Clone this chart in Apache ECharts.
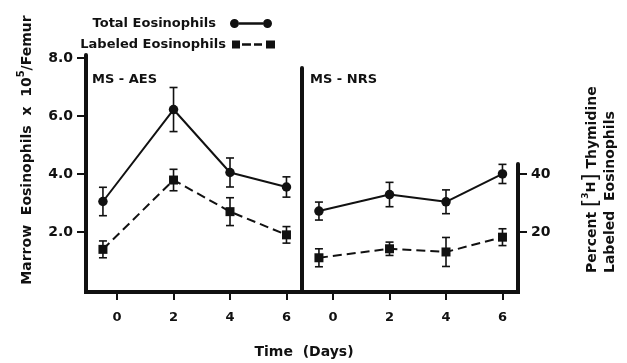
<!DOCTYPE html>
<html>
<head>
<meta charset="utf-8">
<script src="https://cdn.jsdelivr.net/npm/echarts@6/dist/echarts.min.js"></script>
<style>
html,body{margin:0;padding:0;background:#fff;}
#chart{width:627px;height:363px;}
</style>
</head>
<body>
<div id="chart"></div>
<script>
// ---- data ----
const xPos = [-0.5, 2, 4, 6];          // plotted positions of the four time points
const xTicks = [0, 2, 4, 6];           // x tick labels (days)
const yTicksLeft = [2, 4, 6, 8];       // marrow eosinophils x10^5 / femur
const yTicksRight = [20, 40];          // percent labeled
const aesTotal = [3.05, 6.22, 4.05, 3.55];
const aesTotalErr = [0.49, 0.76, 0.50, 0.35];
const aesLabeled = [14.0, 37.9, 27.0, 19.0];
const aesLabeledErr = [2.9, 3.7, 4.8, 2.85];
const nrsTotal = [2.72, 3.29, 3.04, 4.0];
const nrsTotalErr = [0.31, 0.42, 0.41, 0.33];
const nrsLabeled = [11.1, 14.2, 13.1, 18.2];
const nrsLabeledErr = [3.1, 2.3, 5.0, 2.9];

const INK = '#111';
const FONT = 'DejaVu Sans';

const chart = echarts.init(document.getElementById('chart'), null, {renderer: 'canvas'});

function pts(vals) { return xPos.map((x, i) => [x, vals[i]]); }
function errPts(vals, errs) { return xPos.map((x, i) => [x, vals[i], errs[i]]); }

function errSeries(xi, yi, vals, errs) {
  return {
    type: 'custom', xAxisIndex: xi, yAxisIndex: yi, z: 1,
    data: errPts(vals, errs),
    encode: {x: 0, y: 1},
    renderItem: function (params, api) {
      const x = api.value(0), y = api.value(1), e = api.value(2);
      const t = api.coord([x, y + e]);
      const b = api.coord([x, y - e]);
      const hw = 4;
      const st = {stroke: INK, lineWidth: 1.6};
      return {type: 'group', children: [
        {type: 'line', shape: {x1: t[0], y1: t[1], x2: b[0], y2: b[1]}, style: st},
        {type: 'line', shape: {x1: t[0] - hw, y1: t[1], x2: t[0] + hw, y2: t[1]}, style: st},
        {type: 'line', shape: {x1: b[0] - hw, y1: b[1], x2: b[0] + hw, y2: b[1]}, style: st}
      ]};
    }
  };
}

function totalSeries(xi, yi, vals) {
  return {
    name: 'Total Eosinophils', type: 'line', xAxisIndex: xi, yAxisIndex: yi, z: 3,
    data: pts(vals), symbol: 'circle', symbolSize: 9.5, showSymbol: true,
    lineStyle: {color: INK, width: 2}, itemStyle: {color: INK}
  };
}
function labeledSeries(xi, yi, vals) {
  return {
    name: 'Labeled Eosinophils', type: 'line', xAxisIndex: xi, yAxisIndex: yi, z: 3,
    data: pts(vals), symbol: 'rect', symbolSize: 9, showSymbol: true,
    lineStyle: {color: INK, width: 2, type: [9, 5]}, itemStyle: {color: INK}
  };
}

const xAxisBase = {
  type: 'value', min: -1.1, max: 6.55,
  splitLine: {show: false},
  axisLine: {show: true, onZero: false, lineStyle: {color: INK, width: 4, cap: 'square'}},
  axisTick: {show: true, customValues: xTicks, length: 8, lineStyle: {color: INK, width: 2}},
  axisLabel: {show: true, customValues: xTicks, margin: 19, color: INK,
    fontFamily: FONT, fontWeight: 'bold', fontSize: 13}
};

const hiddenY = (min, max, grid) => ({type: 'value', gridIndex: grid, min: min, max: max, show: false,
  axisLine: {onZero: false}, splitLine: {show: false}});

const option = {
  animation: false,
  backgroundColor: '#fff',
  grid: [
    {left: 86, top: 55, width: 216, height: 237, outerBoundsMode: 'none'},
    {left: 302, top: 55, width: 216, height: 237, outerBoundsMode: 'none'},
    {left: 302, top: 68, width: 216, height: 224, outerBoundsMode: 'none'},
    {left: 302, top: 164, width: 216, height: 128, outerBoundsMode: 'none'}
  ],
  xAxis: [
    Object.assign({}, xAxisBase, {gridIndex: 0}),
    Object.assign({}, xAxisBase, {gridIndex: 1}),
    {type: 'value', gridIndex: 2, min: 0, max: 1, show: false},
    {type: 'value', gridIndex: 3, min: 0, max: 1, show: false}
  ],
  yAxis: [
    {type: 'value', gridIndex: 0, position: 'left', min: -0.07, max: 8.1,
      splitLine: {show: false},
      axisLine: {show: true, onZero: false, lineStyle: {color: INK, width: 4}},
      axisTick: {show: true, customValues: yTicksLeft, length: 9, lineStyle: {color: INK, width: 2}},
      axisLabel: {show: true, customValues: yTicksLeft, margin: 13, color: INK,
        fontFamily: FONT, fontWeight: 'bold', fontSize: 14,
        formatter: v => Number(v).toFixed(1)}},
    hiddenY(-0.7, 81, 0),
    hiddenY(-0.07, 8.1, 1),
    hiddenY(-0.7, 81, 1),
    {type: 'value', gridIndex: 2, position: 'left', min: 0, max: 1,
      splitLine: {show: false},
      axisLine: {show: true, onZero: false, lineStyle: {color: INK, width: 4}},
      axisTick: {show: false}, axisLabel: {show: false}},
    {type: 'value', gridIndex: 3, position: 'right', min: -0.7, max: 43.44,
      splitLine: {show: false},
      axisLine: {show: true, onZero: false, lineStyle: {color: INK, width: 4}},
      axisTick: {show: true, customValues: yTicksRight, length: 9, lineStyle: {color: INK, width: 2}},
      axisLabel: {show: true, customValues: yTicksRight, margin: 13, color: INK,
        fontFamily: FONT, fontWeight: 'bold', fontSize: 14}}
  ],
  legend: [
    {data: ['Total Eosinophils'], right: 350, top: 12, align: 'right', selectedMode: false,
      itemWidth: 42, itemHeight: 10,
      icon: 'path://M0,5 A4.5,4.5 0 1,1 9,5 A4.5,4.5 0 1,1 0,5 Z M9,3.8 L33,3.8 L33,6.2 L9,6.2 Z M33,5 A4.5,4.5 0 1,1 42,5 A4.5,4.5 0 1,1 33,5 Z',
      itemStyle: {color: INK, borderWidth: 0},
      textStyle: {color: INK, fontFamily: FONT, fontWeight: 'bold', fontSize: 13, padding: [0, 9, 0, 0]}},
    {data: ['Labeled Eosinophils'], right: 347, top: 33, align: 'right', selectedMode: false,
      itemWidth: 43, itemHeight: 10,
      icon: 'path://M0,1 L8,1 L8,9 L0,9 Z M10,3.8 L19,3.8 L19,6.2 L10,6.2 Z M22,3.8 L30,3.8 L30,6.2 L22,6.2 Z M34,1 L43,1 L43,9 L34,9 Z',
      itemStyle: {color: INK, borderWidth: 0},
      textStyle: {color: INK, fontFamily: FONT, fontWeight: 'bold', fontSize: 13, padding: [0, 1, 0, 0]}}
  ],
  graphic: [
    {type: 'text', x: 92, y: 80, style: {text: 'MS - AES', fill: INK, font: 'bold 13px "DejaVu Sans"', verticalAlign: 'middle'}},
    {type: 'text', x: 310, y: 80, style: {text: 'MS - NRS', fill: INK, font: 'bold 13px "DejaVu Sans"', verticalAlign: 'middle'}},
    {type: 'text', x: 304, y: 352, style: {text: 'Time  (Days)', fill: INK, font: 'bold 14px "DejaVu Sans"', align: 'center', verticalAlign: 'middle'}},
    {type: 'text', x: 27, y: 150, rotation: Math.PI / 2,
      style: {text: 'Marrow  Eosinophils  x  10{sup|5}/Femur', fill: INK, font: 'bold 14px "DejaVu Sans"',
        align: 'center', verticalAlign: 'middle', lineHeight: 22,
        rich: {sup: {fontSize: 10, fontWeight: 'bold', fontFamily: FONT, fill: INK, verticalAlign: 'top', lineHeight: 22}}}},
    {type: 'text', x: 592, y: 273, rotation: Math.PI / 2,
      style: {text: 'Percent {br|[}{sup|3}{h|H}{br|]} Thymidine', fill: INK, font: 'bold 14px "DejaVu Sans"',
        align: 'left', verticalAlign: 'middle', lineHeight: 22,
        rich: {
          br: {fontSize: 21, fontFamily: FONT, fill: INK, lineHeight: 22},
          sup: {fontSize: 9, fontWeight: 'bold', fontFamily: FONT, fill: INK, verticalAlign: 'top', lineHeight: 22},
          h: {fontSize: 13, fontWeight: 'bold', fontFamily: FONT, fill: INK, lineHeight: 22}
        }}},
    {type: 'text', x: 610, y: 273, rotation: Math.PI / 2,
      style: {text: 'Labeled  Eosinophils', fill: INK, font: 'bold 14px "DejaVu Sans"', align: 'left', verticalAlign: 'middle'}}
  ],
  series: [
    errSeries(0, 0, aesTotal, aesTotalErr),
    errSeries(0, 1, aesLabeled, aesLabeledErr),
    errSeries(1, 2, nrsTotal, nrsTotalErr),
    errSeries(1, 3, nrsLabeled, nrsLabeledErr),
    totalSeries(0, 0, aesTotal),
    labeledSeries(0, 1, aesLabeled),
    totalSeries(1, 2, nrsTotal),
    labeledSeries(1, 3, nrsLabeled)
  ]
};
chart.setOption(option);
</script>
</body>
</html>
